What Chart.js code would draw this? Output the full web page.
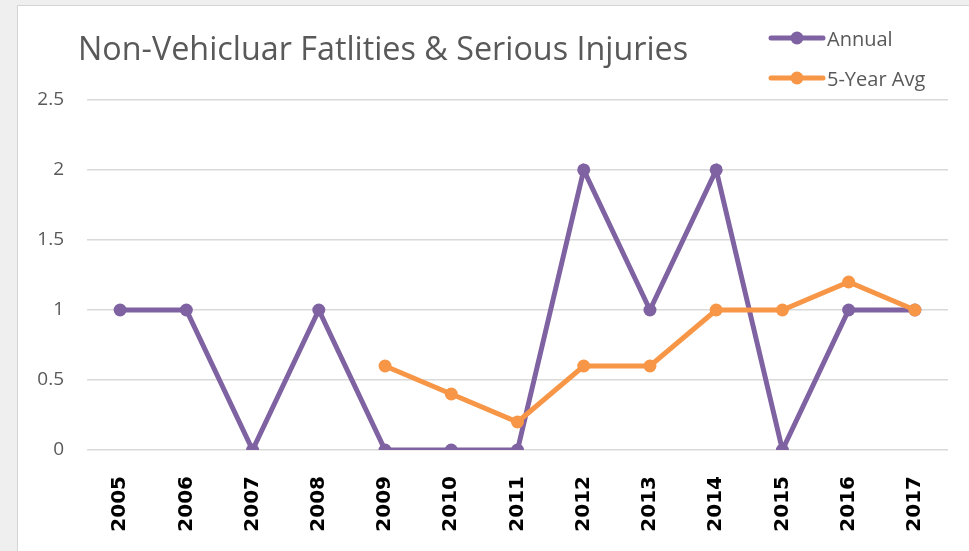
<!DOCTYPE html>
<html>
<head>
<meta charset="utf-8">
<script src="https://cdn.jsdelivr.net/npm/chart.js@4/dist/chart.umd.min.js"></script>
<style>
  html, body { margin: 0; padding: 0; background: #efefef; width: 969px; height: 551px; overflow: hidden; }
  #frame { position: absolute; left: 17px; top: 5px; width: 960px; height: 560px; background: #fff; border-left: 1px solid #d4d4d4; border-top: 1px solid #d4d4d4; }
  #wrap { position: absolute; left: 0; top: 0; width: 969px; height: 551px; }
  #legend { position: absolute; left: 768px; top: 18px; font-family: "Open Sans", sans-serif; font-size: 20px; color: #595959; }
  .item { display: flex; align-items: center; height: 40px; }
  .item canvas { margin-right: 1px; }
</style>
</head>
<body>
<div id="frame"></div>
<div id="wrap"><canvas id="c" width="969" height="551"></canvas></div>
<div id="legend"></div>
<script>
const years = ['2005','2006','2007','2008','2009','2010','2011','2012','2013','2014','2015','2016','2017'];
const annual = [1, 1, 0, 1, 0, 0, 0, 2, 1, 2, 0, 1, 1];
const fiveYearAvg = [null, null, null, null, 0.6, 0.4, 0.2, 0.6, 0.6, 1.0, 1.0, 1.2, 1.0];
const yTickStep = 0.5;
const yMax = 2.5;
const seriesNames = ['Annual', '5-Year Avg'];
const colors = ['#7f62a1', '#f79646'];

const titleShift = {
  id: 'titleShift',
  afterLayout(chart) {
    if (chart.titleBlock) { chart.titleBlock.left = 78; }
  }
};

const ctx = document.getElementById('c');
const chart = new Chart(ctx, {
  type: 'line',
  plugins: [titleShift],
  data: {
    labels: years,
    datasets: [
      { label: seriesNames[0], data: annual, borderColor: colors[0], backgroundColor: colors[0],
        borderWidth: 5, pointRadius: 6.5, pointHoverRadius: 6.5, pointBorderWidth: 0, order: 2, tension: 0 },
      { label: seriesNames[1], data: fiveYearAvg, borderColor: colors[1], backgroundColor: colors[1],
        borderWidth: 5, pointRadius: 6.5, pointHoverRadius: 6.5, pointBorderWidth: 0, order: 1, tension: 0 }
    ]
  },
  options: {
    responsive: false,
    animation: false,
    devicePixelRatio: 1,
    layout: { padding: { left: 17, right: 21, top: 0, bottom: 0 } },
    plugins: {
      legend: { display: false },
      tooltip: { enabled: false },
      title: {
        display: true, align: 'start', text: 'Non-Vehicluar Fatlities & Serious Injuries',
        color: '#595959', font: { family: 'Open Sans', size: 32.3, weight: 'normal', lineHeight: 1.2 },
        padding: { top: 31, bottom: 30.2 }
      }
    },
    scales: {
      x: {
        offset: true,
        grid: { display: false },
        border: { display: false },
        ticks: { color: '#000', minRotation: 90, maxRotation: 90, padding: 18,
                 font: { family: 'DejaVu Sans', size: 20, weight: 'bold' } },
        afterFit: s => { s.height = 101; }
      },
      y: {
        min: 0, max: yMax,
        grid: { color: '#d9d9d9', lineWidth: 1.5, drawTicks: false },
        border: { display: false },
        ticks: { stepSize: yTickStep, color: '#595959', padding: 23, font: { family: 'Open Sans', size: 19 },
                 callback: v => String(v) },
        afterFit: s => { s.width = 70; }
      }
    }
  }
});

// legend (HTML)
const leg = document.getElementById('legend');
seriesNames.forEach((name, i) => {
  const item = document.createElement('div');
  item.className = 'item';
  const ic = document.createElement('canvas');
  ic.width = 58; ic.height = 16;
  const g = ic.getContext('2d');
  g.strokeStyle = colors[i]; g.lineWidth = 5; g.lineCap = 'round';
  g.beginPath(); g.moveTo(3, 8); g.lineTo(55, 8); g.stroke();
  g.fillStyle = colors[i]; g.beginPath(); g.arc(29, 8, 6.5, 0, Math.PI * 2); g.fill();
  item.appendChild(ic);
  const t = document.createElement('span');
  t.textContent = name;
  item.appendChild(t);
  leg.appendChild(item);
});
</script>
</body>
</html>
